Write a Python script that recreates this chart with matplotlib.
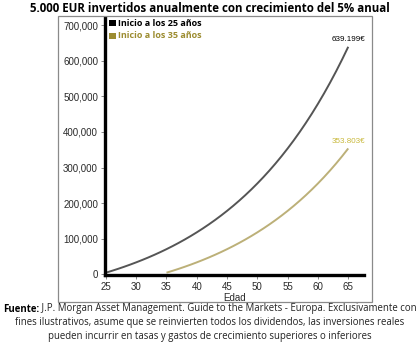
import matplotlib
matplotlib.use("Agg")
import matplotlib.pyplot as plt
from matplotlib.patches import Rectangle

# ---- data ----
ages_25 = list(range(25, 66))
values_25 = [5000, 10250, 15763, 21551, 27628, 34010, 40710, 47746, 55133, 62889,
             71034, 79586, 88565, 97993, 107893, 118287, 129202, 140662, 152695, 165330,
             178596, 192526, 207153, 222510, 238635, 255567, 273346, 292013, 311614, 332194,
             353804, 376494, 400319, 425335, 451602, 479182, 508141, 538548, 570475, 603999,
             639199]
ages_35 = list(range(35, 66))
values_35 = [5000, 10250, 15763, 21551, 27628, 34010, 40710, 47746, 55133, 62889,
             71034, 79586, 88565, 97993, 107893, 118287, 129202, 140662, 152695, 165330,
             178596, 192526, 207153, 222510, 238635, 255567, 273346, 292013, 311614, 332194,
             353804]
series_names = ["Inicio a los 25 años", "Inicio a los 35 años"]
end_labels = ["639.199€", "353.803€"]
x_ticks = [25, 30, 35, 40, 45, 50, 55, 60, 65]
y_ticks = [0, 100000, 200000, 300000, 400000, 500000, 600000, 700000]
y_tick_labels = ["0", "100,000", "200,000", "300,000", "400,000", "500,000", "600,000", "700,000"]
title = "5.000 EUR invertidos anualmente con crecimiento del 5% anual"
x_label = "Edad"
source_bold = "Fuente:"
source_line1 = " J.P. Morgan Asset Management. Guide to the Markets - Europa. Exclusivamente con"
source_line2 = "fines ilustrativos, asume que se reinvierten todos los dividendos, las inversiones reales"
source_line3 = "pueden incurrir en tasas y gastos de crecimiento superiores o inferiores"

W, H = 420, 342
fig = plt.figure(figsize=(W / 100, H / 100), dpi=100)
fig.patch.set_facecolor("white")

def fx(px):
    return px / W

def fy(py):
    return 1 - py / H

# outer panel box
fig.patches.append(Rectangle((fx(58), fy(302)), fx(372) - fx(58), fy(16) - fy(302),
                             transform=fig.transFigure, fill=False,
                             edgecolor="#8a8a8a", linewidth=0.9))

ax = fig.add_axes([fx(105), fy(275), fx(364) - fx(105), fy(18) - fy(275)])
ax.set_facecolor("none")

dark = "#555555"
olive_line = "#bcb078"
olive_leg = "#9c8c30"
olive_lab = "#c8b83a"

ax.plot(ages_25, values_25, color=dark, linewidth=1.4, solid_capstyle="butt")
ax.plot(ages_35, values_35, color=olive_line, linewidth=1.4, solid_capstyle="butt")

ax.set_xlim(24.85, 67.6)
ax.set_ylim(-1500, 720000)
ax.set_xticks(x_ticks)
ax.set_xticklabels([str(t) for t in x_ticks])
ax.set_yticks(y_ticks)
ax.set_yticklabels(y_tick_labels)

for s in ["top", "right"]:
    ax.spines[s].set_visible(False)
for s in ["left", "bottom"]:
    ax.spines[s].set_linewidth(2.4)
    ax.spines[s].set_color("black")

ax.tick_params(axis="both", which="major", length=3, width=0.6, color="#777777",
               labelsize=7, labelcolor="#2a2a2a", pad=2)
for lab in ax.get_xticklabels() + ax.get_yticklabels():
    lab.set_fontfamily("Liberation Sans")
ax.set_xlabel(x_label, fontsize=7, fontfamily="Liberation Sans", color="#2a2a2a", labelpad=1)

# end labels
ax.annotate(end_labels[0], xy=(ages_25[-1], values_25[-1]), xytext=(0, 2.5),
            textcoords="offset points", ha="center", va="bottom",
            fontsize=5.8, fontfamily="Liberation Sans", color="black")
ax.annotate(end_labels[1], xy=(ages_35[-1], values_35[-1]), xytext=(0, 2.5),
            textcoords="offset points", ha="center", va="bottom",
            fontsize=5.8, fontfamily="Liberation Sans", color=olive_lab)

# legend
leg_rows = [(fy(23), "black", "black"), (fy(36), olive_leg, olive_leg)]
for (yy, mc, tc), name in zip(leg_rows, series_names):
    fig.patches.append(Rectangle((fx(109), yy - 3.2 / H), 6.5 / W, 6.5 / H,
                                 transform=fig.transFigure, facecolor=mc, edgecolor="none"))
    fig.text(fx(118), yy, name, ha="left", va="center", fontsize=6.5,
             fontfamily="Open Sans", fontweight="bold", color=tc)

# title
fig.text(0.5, fy(8), title, ha="center", va="center", fontsize=8.3,
         fontfamily="Open Sans", fontweight="bold", color="black")

# source text
fig.canvas.draw()
r = fig.canvas.get_renderer()
fs = 6.9
tb = fig.text(0, fy(309), source_bold, ha="left", va="center", fontsize=fs,
              fontfamily="Open Sans", fontweight="bold", color="black")
tr = fig.text(0, fy(309), source_line1, ha="left", va="center", fontsize=fs,
              fontfamily="Open Sans", color="#222222")
wb = tb.get_window_extent(r).width
wr = tr.get_window_extent(r).width
start = (W - (wb + wr)) / 2
tb.set_x(fx(start))
tr.set_x(fx(start + wb))
fig.text(0.5, fy(323), source_line2, ha="center", va="center", fontsize=fs,
         fontfamily="Open Sans", color="#222222")
fig.text(0.5, fy(337), source_line3, ha="center", va="center", fontsize=fs,
         fontfamily="Open Sans", color="#222222")

fig.savefig("out.png", dpi=100)
